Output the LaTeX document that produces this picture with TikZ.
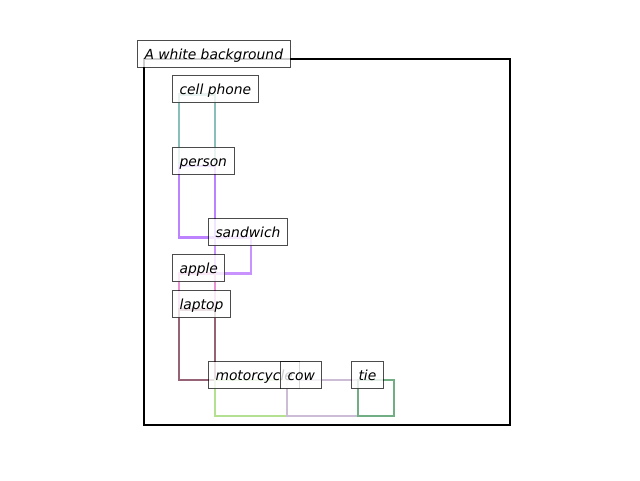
\documentclass[tikz,border=0pt]{standalone}
\usepackage{fontspec}
\setmainfont{DejaVu Sans}
\definecolor{cphone}{RGB}{138,190,186}
\definecolor{cperson}{RGB}{188,130,255}
\definecolor{csand}{RGB}{200,146,255}
\definecolor{capple}{RGB}{234,146,212}
\definecolor{claptop}{RGB}{150,98,118}
\definecolor{cmoto}{RGB}{180,224,146}
\definecolor{ccow}{RGB}{204,188,214}
\definecolor{ctie}{RGB}{114,174,132}
\begin{document}
\begin{tikzpicture}[x=0.75pt,y=-0.75pt,
  lbl/.style={draw=black, draw opacity=0.7, line width=0.75pt, fill=white, fill opacity=0.8, text opacity=1,
    anchor=west, inner xsep=5.25pt, inner ysep=0pt, minimum height=20.25pt,
    text height=0.9em, text depth=0.1em,
    font=\itshape\fontsize{10.4}{12}\selectfont},
  bx/.style={line width=1.8pt},
  frame/.style={line width=1.6pt}]
\useasboundingbox (0,0) rectangle (640,480);
% box corners
\coordinate (bg1) at (144,59);   \coordinate (bg2) at (510,425);
\coordinate (cp1) at (179,94.5); \coordinate (cp2) at (215,166);
\coordinate (pe1) at (179,166);  \coordinate (pe2) at (215,237.5);
\coordinate (sa1) at (215,237.5);\coordinate (sa2) at (251,273.5);
\coordinate (ap1) at (179,273.5);\coordinate (ap2) at (215,309.5);
\coordinate (la1) at (179,309.5);\coordinate (la2) at (215,380);
\coordinate (mo1) at (215,380);  \coordinate (mo2) at (287,416);
\coordinate (co1) at (287,380);  \coordinate (co2) at (358,416);
\coordinate (ti1) at (358,380);  \coordinate (ti2) at (394,416);
% boxes
\draw[frame, black] (bg1) rectangle (bg2);
\draw[bx, cphone] (cp1) rectangle (cp2);
\draw[bx, cperson] (pe1) rectangle (pe2);
\draw[bx, csand] (sa1) rectangle (sa2);
\draw[bx, capple] (ap1) rectangle (ap2);
\draw[bx, claptop] (la1) rectangle (la2);
\draw[bx, cmoto] (mo1) rectangle (mo2);
\draw[bx, ccow] (co1) rectangle (co2);
\draw[bx, ctie] (ti1) rectangle (ti2);
% labels
\node[lbl] (lbg) at ([xshift=-5.25pt,yshift=4pt]bg1) {A white background};
\node[lbl] (lcp) at ([xshift=-5.25pt,yshift=4pt]cp1) {cell phone};
\node[lbl] (lpe) at ([xshift=-5.25pt,yshift=4pt]pe1) {person};
\node[lbl] (lsa) at ([xshift=-5.25pt,yshift=4pt]sa1) {sandwich};
\node[lbl] (lap) at ([xshift=-5.25pt,yshift=4pt]ap1) {apple};
\node[lbl] (lla) at ([xshift=-5.25pt,yshift=4pt]la1) {laptop};
\node[lbl] (lmo) at ([xshift=-5.25pt,yshift=3.4pt]mo1) {motorcycle};
\node[lbl] (lco) at ([xshift=-5.25pt,yshift=3.4pt]co1) {cow};
\node[lbl] (lti) at ([xshift=-5.25pt,yshift=3.4pt]ti1) {tie};
\end{tikzpicture}
\end{document}
